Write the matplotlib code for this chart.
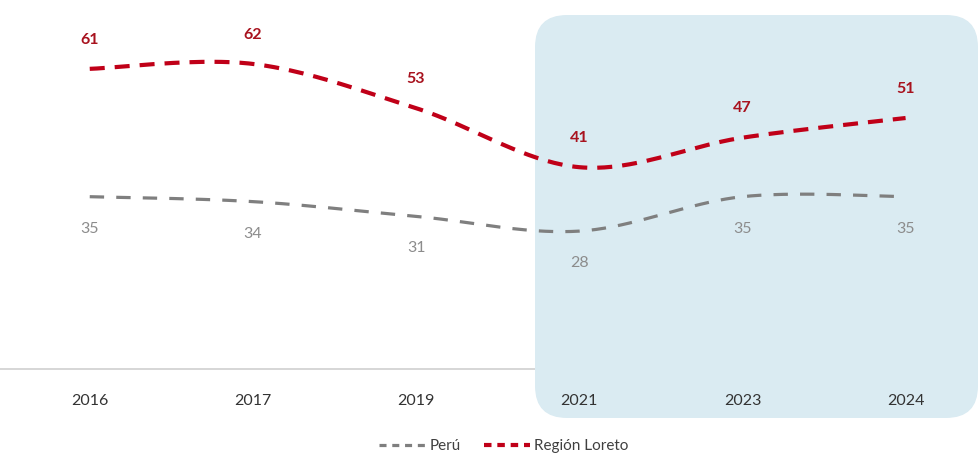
import numpy as np
import matplotlib.pyplot as plt
from matplotlib.patches import FancyBboxPatch
from matplotlib.lines import Line2D

years = ['2016', '2017', '2019', '2021', '2023', '2024']
peru = [35, 34, 31, 28, 35, 35]
loreto = [61, 62, 53, 41, 47, 51]

RED = '#C00018'
RED_TXT = '#A8121E'
GRAY = '#7F7F7F'
GRAY_TXT = '#8C8C8C'

plt.rcParams['font.family'] = ['Lato', 'DejaVu Sans']


# Excel-like smoothed line (cubic bezier through every point)
def smooth(x, y, n=40):
    x = np.asarray(x, float)
    y = np.asarray(y, float)
    px, py = [], []
    for i in range(len(x) - 1):
        i0 = max(i - 1, 0)
        i3 = min(i + 2, len(x) - 1)
        c1x = x[i] + (x[i + 1] - x[i0]) / 6
        c1y = y[i] + (y[i + 1] - y[i0]) / 6
        c2x = x[i + 1] - (x[i3] - x[i]) / 6
        c2y = y[i + 1] - (y[i3] - y[i]) / 6
        t = np.linspace(0, 1, n)
        bx = (1 - t) ** 3 * x[i] + 3 * (1 - t) ** 2 * t * c1x + 3 * (1 - t) * t ** 2 * c2x + t ** 3 * x[i + 1]
        by = (1 - t) ** 3 * y[i] + 3 * (1 - t) ** 2 * t * c1y + 3 * (1 - t) * t ** 2 * c2y + t ** 3 * y[i + 1]
        px.extend(bx)
        py.extend(by)
    return np.array(px), np.array(py)


fig = plt.figure(figsize=(9.79, 4.57), dpi=100)
ax = fig.add_axes([0, 0.193, 1, 0.807])
ax.patch.set_visible(False)

# highlight box for 2021-2024 (covers the baseline, under the lines)
box = FancyBboxPatch((5.35, 0.39), 4.43, 4.03,
                     boxstyle='round,pad=0,rounding_size=0.32',
                     transform=fig.dpi_scale_trans, facecolor='#DAEBF2',
                     edgecolor='none', zorder=1, clip_on=False)
ax.add_patch(box)

x = np.arange(len(years))

sx, sy = smooth(x, peru)
ax.plot(sx, sy, color=GRAY, lw=2.3, linestyle=(0, (4.5, 3.8)), dash_capstyle='butt', zorder=3)
sx, sy = smooth(x, loreto)
ax.plot(sx, sy, color=RED, lw=3.0, linestyle=(0, (3.6, 2.4)), dash_capstyle='butt', zorder=3)

for xi, v in zip(x, loreto):
    ax.annotate(str(v), (xi, v), xytext=(0, 16), textcoords='offset points',
                ha='center', va='bottom', fontsize=11.5, fontweight='bold', color=RED_TXT, zorder=4)
for xi, v in zip(x, peru):
    ax.annotate(str(v), (xi, v), xytext=(0, -18), textcoords='offset points',
                ha='center', va='top', fontsize=11.5, color=GRAY_TXT, zorder=4)

ax.set_xlim(-0.55, 5.45)
ax.set_ylim(0, 75)
ax.set_xticks(x)
ax.set_xticklabels(years, fontsize=11.5, color='#333333')
ax.tick_params(axis='x', length=0, pad=18)
ax.set_yticks([])
for s in ['top', 'right', 'left']:
    ax.spines[s].set_visible(False)
ax.spines['bottom'].set_color('#D0D0D0')
ax.spines['bottom'].set_linewidth(1.2)
ax.spines['bottom'].set_zorder(0.5)
ax.xaxis.set_zorder(2)

handles = [Line2D([], [], color=GRAY, lw=2.3, linestyle=(0, (2.2, 1.8))),
           Line2D([], [], color=RED, lw=3.0, linestyle=(0, (1.8, 1.4)))]
fig.legend(handles, ['Perú', 'Región Loreto'], loc='center', bbox_to_anchor=(0.515, 0.024),
           ncol=2, frameon=False, fontsize=11, handlelength=3.0, handletextpad=0.3,
           columnspacing=1.5, labelcolor='#404040')

fig.savefig('out.png', dpi=100)
